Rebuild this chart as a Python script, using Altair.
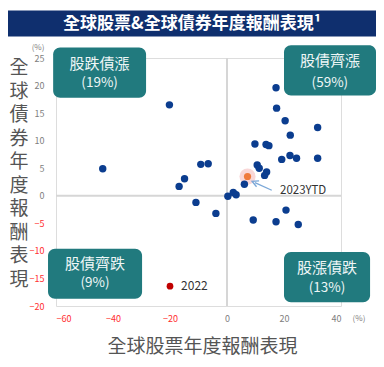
import altair as alt
import pandas as pd

# Annual returns (%): global equities (x) vs global bonds (y)
stock = [-43.6, -20.2, -16.8, -14.9, -9.2, -6.6, -10.9, -3.9, 0.3, 2.2, 3.2, 6.1,
         17.2, 17.4, 20.4, 22.2, 31.8, 9.8, 13.7, 14.7, 19.2, 22.1, 24.4, 31.8,
         10.6, 11.3, 13.9, 13.2, 9.2, 17.2, 20.7, 25.0]
bond = [4.9, 16.5, 1.7, 3.1, 5.7, 5.8, -1.2, -3.2, -0.1, 0.6, 0.2, 2.1,
        19.6, 15.9, 13.6, 11.0, 12.4, 9.4, 9.3, 9.1, 6.6, 7.3, 6.8, 6.8,
        5.6, 5.0, 4.3, 3.7, -4.4, -4.7, -2.6, -5.2]

ytd_point = {"x": [7.2], "y": [3.5]}
y2022_point = {"x": [-20.0], "y": [-16.4]}

x_ticks = [-60, -40, -20, 0, 20, 40]
y_ticks = [-20, -15, -10, -5, 0, 5, 10, 15, 20, 25]

quad_names = ["股跌債漲", "股債齊漲", "股債齊跌", "股漲債跌"]
quad_pcts = ["(19%)", "(59%)", "(9%)", "(13%)"]
box_x = [-61.0, 20.0, -62.8, 20.0]
box_x2 = [-28.4, 52.3, -29.8, 50.2]
box_y = [26.9, 27.3, -9.6, -10.2]
box_y2 = [17.8, 18.2, -18.7, -19.3]
label_x = [-44.7, 36.1, -46.3, 35.1]
label_y1 = [24.0, 24.4, -12.4, -13.1]
label_y2 = [20.4, 20.5, -15.8, -16.7]

title_text = "全球股票&全球債券年度報酬表現¹"
x_title = "全球股票年度報酬表現"
y_title = "全球債券年度報酬表現"

FONT = "Noto Sans CJK TC"
BLUE = "#0b3d8f"
TEAL = "#217a7e"

xs = alt.Scale(domain=[-60, 40], nice=False, zero=False)
ys = alt.Scale(domain=[-20, 25], nice=False, zero=False)

x_axis = alt.Axis(
    values=x_ticks, domain=False, ticks=False, tickSize=0, grid=False,
    labelFontSize=9, labelFont=FONT, labelPadding=8,
    labelColor={"condition": {"test": "datum.value < 0", "value": "#ff3030"}, "value": "#808080"},
    title=x_title, titleFont=FONT, titleFontSize=19, titleFontWeight="normal",
    titleColor="#555555", titleX=146, titleY=40, titleAlign="center", titleBaseline="middle",
)
y_axis = alt.Axis(
    values=y_ticks, domain=False, ticks=False, tickSize=0, grid=False,
    labelFontSize=9, labelFont=FONT, labelPadding=12,
    labelColor={"condition": {"test": "datum.value < 0", "value": "#ff3030"}, "value": "#808080"},
    title=None,
)

def X(field="x"):
    return alt.X(f"{field}:Q", scale=xs, axis=x_axis)

def Y(field="y"):
    return alt.Y(f"{field}:Q", scale=ys, axis=y_axis)

df = pd.DataFrame({"x": stock, "y": bond})

hline = alt.Chart(pd.DataFrame({"y": [0]})).mark_rule(color="#d6d6d6", strokeWidth=2).encode(y=Y())
vline = alt.Chart(pd.DataFrame({"x": [0]})).mark_rule(color="#d6d6d6", strokeWidth=2).encode(x=X())

halo = alt.Chart(pd.DataFrame(ytd_point)).mark_circle(size=260, color="#f4b6b6", opacity=0.55).encode(x=X(), y=Y())

points = alt.Chart(df).mark_circle(size=55, color=BLUE, opacity=1).encode(x=X(), y=Y())

ytd = alt.Chart(pd.DataFrame(ytd_point)).mark_circle(size=52, color="#ef7a3c", opacity=1).encode(x=X(), y=Y())

p2022 = alt.Chart(pd.DataFrame(y2022_point)).mark_circle(size=45, color="#c00000", opacity=1).encode(x=X(), y=Y())
t2022 = alt.Chart(pd.DataFrame({"x": [-16.1], "y": [-16.4], "t": ["2022"]})).mark_text(
    align="left", baseline="middle", fontSize=12, font=FONT, color="#333333"
).encode(x=X(), y=Y(), text="t:N")

arrow_df = pd.DataFrame({"x": [15.7, 9.8], "y": [1.0, 2.4], "o": [0, 1]})
arrow_line = alt.Chart(arrow_df).mark_line(color="#7aa7d8", strokeWidth=1.3).encode(x=X(), y=Y(), order="o:Q")
arrow_head = alt.Chart(arrow_df.iloc[[1]]).mark_point(
    shape="M -1 1 L 0 -1 L 1 1", filled=False, size=40, angle=294, color="#7aa7d8", strokeWidth=1.3, opacity=1
).encode(x=X(), y=Y())
ytd_text = alt.Chart(pd.DataFrame({"x": [18.6], "y": [0.9], "t": ["2023YTD"]})).mark_text(
    align="left", baseline="middle", fontSize=11.5, font=FONT, color="#333333"
).encode(x=X(), y=Y(), text="t:N")

boxes_df = pd.DataFrame({"x": box_x, "x2": box_x2, "y": box_y, "y2": box_y2,
                         "lx": label_x, "ly1": label_y1, "ly2": label_y2,
                         "n": quad_names, "p": quad_pcts})
boxes = alt.Chart(boxes_df).mark_rect(color=TEAL, cornerRadius=7).encode(
    x=X(), x2="x2:Q", y=Y(), y2="y2:Q"
)
box_t1 = alt.Chart(boxes_df).mark_text(fontSize=15, font=FONT, color="#eef6f6", baseline="middle").encode(
    x=X("lx"), y=Y("ly1"), text="n:N"
)
box_t2 = alt.Chart(boxes_df).mark_text(fontSize=13.5, font=FONT, color="#eef6f6", baseline="middle").encode(
    x=X("lx"), y=Y("ly2"), text="p:N"
)

pct_df = pd.DataFrame({"x": [-66.3, 46.3], "y": [26.9, -22.4], "t": ["(%)", "(%)"]})
pct = alt.Chart(pct_df).mark_text(fontSize=8, font=FONT, color="#808080", baseline="middle").encode(
    x=X(), y=Y(), text="t:N"
)

ytitle = alt.Chart(pd.DataFrame({"t": ["\n".join(y_title)]})).mark_text(
    fontSize=19, font=FONT, color="#555555", align="center", baseline="top",
    lineBreak="\n", lineHeight=23.5
).encode(x=alt.value(-37), y=alt.value(1), text="t:N")

banner = alt.Chart(pd.DataFrame({"a": [1]})).mark_rect(color="#0f2f6e").encode(
    x=alt.value(-48), x2=alt.value(320), y=alt.value(-47.5), y2=alt.value(-21.5)
)
banner_text = alt.Chart(pd.DataFrame({"t": [title_text]})).mark_text(
    fontSize=17, font=FONT, fontWeight="bold", color="white", baseline="middle", align="center"
).encode(x=alt.value(136), y=alt.value(-34.5), text="t:N")

chart = alt.layer(
    hline, vline, halo, points, ytd, p2022, t2022, arrow_line, arrow_head, ytd_text,
    boxes, box_t1, box_t2, pct, ytitle, banner, banner_text
).properties(
    width=285, height=248,
    autosize=alt.AutoSizeParams(type="none"),
    padding={"left": 48, "top": 50, "right": 35, "bottom": 53},
).configure_view(stroke=None).configure(background="white")

chart.save("out.html", embed_options={"renderer": "svg", "actions": False})
